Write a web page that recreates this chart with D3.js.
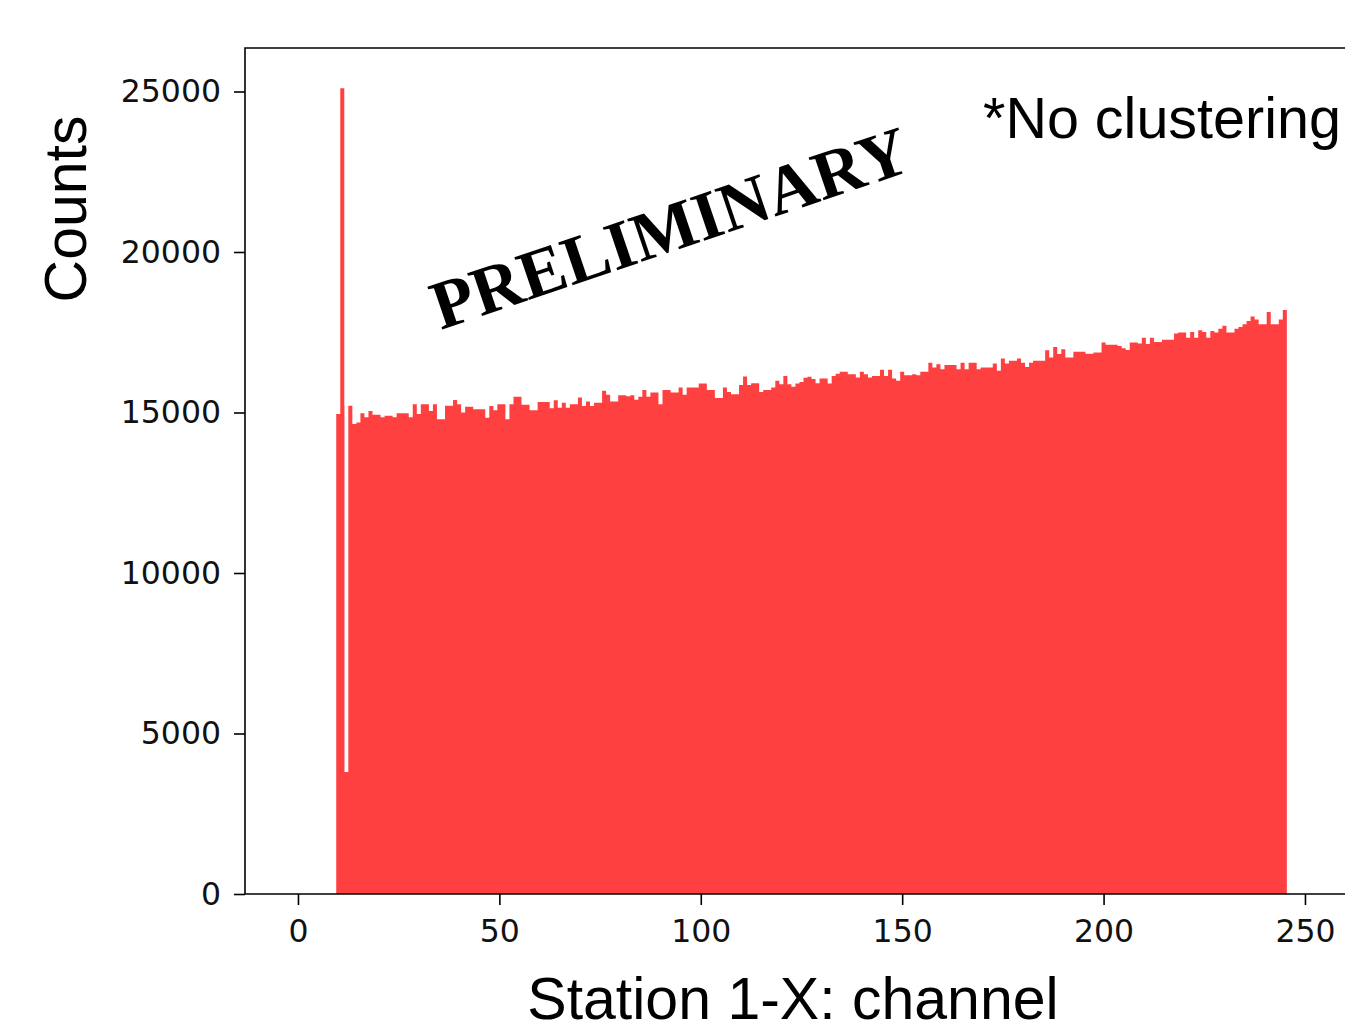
<!DOCTYPE html>
<html>
<head>
<meta charset="utf-8">
<script src="https://cdn.jsdelivr.net/npm/d3@7"></script>
<style>
  body { margin: 0; background: #fff; }
  svg { display: block; }
</style>
</head>
<body>
<div id="chart"></div>
<script>
// channels 10..245, one count per channel
const channels = d3.range(10, 246);
const counts = [
  14950, 25100, 15210, 15210, 14640, 14690, 14980, 14850, 15050, 14930,
  14930, 14850, 14900, 14900, 14850, 14980, 14980, 14980, 14850, 15260,
  14950, 15260, 15260, 15050, 15260, 14790, 14790, 15210, 15210, 15390,
  15260, 15000, 15180, 15180, 15100, 15100, 15100, 14840, 15200, 15070,
  15260, 15260, 14790, 15260, 15490, 15490, 15240, 15240, 15070, 15070,
  15330, 15330, 15330, 15130, 15380, 15150, 15300, 15150, 15260, 15260,
  15470, 15200, 15340, 15200, 15300, 15300, 15680, 15550, 15340, 15340,
  15540, 15540, 15510, 15540, 15400, 15490, 15700, 15490, 15620, 15620,
  15260, 15700, 15700, 15620, 15620, 15780, 15550, 15780, 15780, 15780,
  15900, 15900, 15700, 15700, 15450, 15450, 15780, 15640, 15570, 15570,
  15860, 16120, 15860, 15910, 15910, 15640, 15700, 15700, 15780, 15990,
  15880, 16140, 15880, 15800, 15900, 15950, 16080, 16110, 16040, 15910,
  16060, 16060, 15900, 16140, 16210, 16270, 16270, 16190, 16190, 16090,
  16270, 16190, 16090, 16140, 16140, 16330, 16140, 16330, 16060, 15990,
  16270, 16160, 16160, 16190, 16160, 16270, 16270, 16550, 16400, 16500,
  16350, 16480, 16480, 16480, 16350, 16550, 16350, 16550, 16550, 16350,
  16400, 16400, 16400, 16530, 16300, 16680, 16530, 16610, 16610, 16680,
  16550, 16420, 16550, 16610, 16610, 16610, 16940, 16710, 17040, 16820,
  16970, 16710, 16710, 16890, 16890, 16890, 16830, 16830, 16870, 16870,
  17180, 17110, 17110, 17110, 17070, 17000, 16950, 17180, 17180, 17150,
  17330, 17130, 17330, 17200, 17200, 17270, 17270, 17270, 17460, 17490,
  17490, 17330, 17510, 17330, 17560, 17510, 17330, 17540, 17490, 17610,
  17700, 17490, 17490, 17610, 17660, 17750, 17850, 17990, 17900, 17750,
  17750, 18130, 17750, 17750, 17900, 18190
];
// narrow low bin between channel 11 and 12
const dip = { from: 11.55, to: 11.95, count: 3800 };

const xTicks = [0, 50, 100, 150, 200, 250];
const yTicks = [0, 5000, 10000, 15000, 20000, 25000];

const width = 1345, height = 1033;
const frame = { left: 245, top: 48, bottom: 894 };
const pxPerUnit = (1305 - 298) / 250;
const xMin = -13.15, xMax = 270;

const svg = d3.select("#chart").append("svg")
    .attr("width", width)
    .attr("height", height);

const x = d3.scaleLinear()
    .domain([xMin, xMax])
    .range([frame.left, frame.left + (xMax - xMin) * pxPerUnit]);

const y = d3.scaleLinear()
    .domain([0, d3.max(counts) * 1.05])
    .range([frame.bottom, frame.top]);

// build bins, trimming around the narrow dip bin
const bins = [];
channels.forEach((c, i) => {
    let x0 = c - 0.5, x1 = c + 0.5;
    if (x0 < dip.from && x1 > dip.from) x1 = dip.from;
    if (x0 < dip.to && x1 > dip.to) x0 = dip.to;
    bins.push({ x0, x1, count: counts[i] });
    if (x1 === dip.from) bins.push({ x0: dip.from, x1: dip.to, count: dip.count });
});

const steps = bins.map(b => ({ x: b.x0, v: b.count }));
steps.push({ x: bins[bins.length - 1].x1, v: bins[bins.length - 1].count });

const area = d3.area()
    .x(d => x(d.x))
    .y0(y(0))
    .y1(d => y(d.v))
    .curve(d3.curveStepAfter);

svg.append("path")
    .datum(steps)
    .attr("fill", "#ff4040")
    .attr("d", area);

// axes
const xAxis = svg.append("g")
    .attr("transform", `translate(0,${frame.bottom})`)
    .call(d3.axisBottom(x).tickValues(xTicks).tickFormat(d3.format("d"))
        .tickSize(11).tickPadding(15).tickSizeOuter(0));

const yAxis = svg.append("g")
    .attr("transform", `translate(${frame.left},0)`)
    .call(d3.axisLeft(y).tickValues(yTicks).tickFormat(d3.format("d"))
        .tickSize(11).tickPadding(13).tickSizeOuter(0));

[xAxis, yAxis].forEach(g => {
    g.select(".domain").remove();
    g.selectAll(".tick line").attr("stroke", "#000").attr("stroke-width", 1.6);
    g.selectAll(".tick text")
        .attr("fill", "#111")
        .style("font-family", "DejaVu Sans")
        .style("font-size", "31.5px");
});

// frame (left, top, bottom spines)
svg.append("path")
    .attr("d", `M${x.range()[1]},${frame.top}H${frame.left}V${frame.bottom}H${x.range()[1]}`)
    .attr("fill", "none")
    .attr("stroke", "#000")
    .attr("stroke-width", 1.6);

// labels
svg.append("text")
    .attr("x", 793)
    .attr("y", 1019)
    .attr("text-anchor", "middle")
    .style("font-family", "Liberation Sans")
    .style("font-size", "59px")
    .text("Station 1-X: channel");

svg.append("text")
    .attr("transform", "translate(86,209) rotate(-90)")
    .attr("text-anchor", "middle")
    .style("font-family", "Liberation Sans")
    .style("font-size", "59px")
    .text("Counts");

svg.append("text")
    .attr("x", 983)
    .attr("y", 138)
    .style("font-family", "Liberation Sans")
    .style("font-size", "57.5px")
    .text("*No clustering");

svg.append("text")
    .attr("transform", "translate(670,228) rotate(-18.7)")
    .attr("text-anchor", "middle")
    .attr("dominant-baseline", "central")
    .style("font-family", "Liberation Serif")
    .style("font-weight", "bold")
    .style("font-size", "69px")
    .text("PRELIMINARY");
</script>
</body>
</html>
